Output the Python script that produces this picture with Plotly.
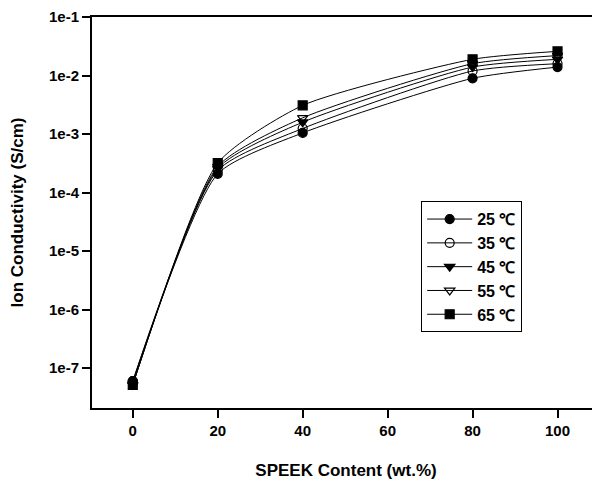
import plotly.graph_objects as go

speek = [0, 20, 40, 80, 100]
labels = ["25 ℃", "35 ℃", "45 ℃", "55 ℃", "65 ℃"]
c25 = [6.0e-8, 2.1e-4, 1.05e-3, 9.0e-3, 1.4e-2]
c35 = [6.0e-8, 2.4e-4, 1.25e-3, 1.2e-2, 1.6e-2]
c45 = [5.2e-8, 2.6e-4, 1.6e-3, 1.4e-2, 1.9e-2]
c55 = [5.2e-8, 2.8e-4, 1.9e-3, 1.6e-2, 2.2e-2]
c65 = [5.2e-8, 3.2e-4, 3.1e-3, 1.9e-2, 2.6e-2]
series = [c25, c35, c45, c55, c65]
symbols = ["circle", "circle-open", "triangle-down", "triangle-down-open", "square"]

ytickvals = [1e-7, 1e-6, 1e-5, 1e-4, 1e-3, 1e-2, 1e-1]
yticktext = ["1e-7", "1e-6", "1e-5", "1e-4", "1e-3", "1e-2", "1e-1"]
xtickvals = [0, 20, 40, 60, 80, 100]

fig = go.Figure()
for lab, vals, sym in zip(labels, series, symbols):
    fig.add_trace(go.Scatter(
        x=speek, y=vals, name=lab, mode="lines+markers",
        line=dict(color="black", width=1, shape="spline", smoothing=0.6),
        marker=dict(symbol=sym, size=9, color="black",
                    line=dict(color="black", width=1.2)),
    ))

font = "Liberation Sans, Arial, sans-serif"
fig.update_layout(
    width=600, height=490,
    margin=dict(l=84, r=8, t=9, b=90),
    paper_bgcolor="white", plot_bgcolor="white",
    font=dict(family=font, color="black"),
    showlegend=True,
    legend=dict(x=0.648, y=0.529, xanchor="left", yanchor="top",
                bordercolor="black", borderwidth=1, bgcolor="white",
                font=dict(size=16, family=font, weight="bold"),
                tracegroupgap=0, itemwidth=45),
    xaxis=dict(range=[-9.6, 110], tickvals=xtickvals, automargin=False,
               showline=True, linecolor="black", linewidth=2, mirror=True,
               ticks="outside", ticklen=8, tickwidth=1.5, tickcolor="black",
               showgrid=False, zeroline=False,
               tickfont=dict(size=15, weight="bold"),
               title=dict(text="SPEEK Content (wt.%)", standoff=26,
                          font=dict(size=17, weight="bold"))),
    yaxis=dict(type="log", range=[-7.68, -0.998], tickvals=ytickvals, ticktext=yticktext,
               automargin=False, ticklabeloverflow="allow",
               showline=True, linecolor="black", linewidth=2,
               ticks="outside", ticklen=8, tickwidth=1.5, tickcolor="black",
               showgrid=False, zeroline=False,
               tickfont=dict(size=15, weight="bold"),
               title=dict(text="Ion Conductivity (S/cm)", standoff=22,
                          font=dict(size=17, weight="bold"))),
)
fig.write_html("out.html")
